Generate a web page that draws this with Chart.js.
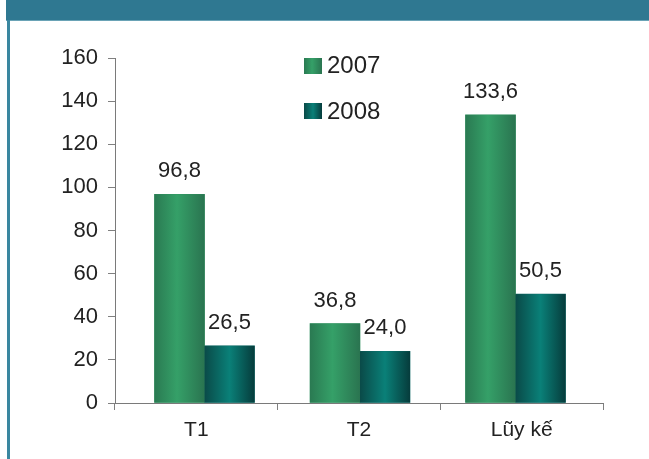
<!DOCTYPE html>
<html>
<head>
<meta charset="utf-8">
<script src="https://cdn.jsdelivr.net/npm/chart.js@4/dist/chart.umd.min.js"></script>
<style>
  html, body { margin: 0; padding: 0; background: #fff; }
  #wrap { position: relative; width: 649px; height: 459px; overflow: hidden; background: #fff; font-family: "Liberation Sans", Arial, sans-serif; }
  #band { position: absolute; left: 6px; top: 0; width: 643px; height: 20px; background: #2f7891; border-bottom: 1px solid #6aa3b6; }
  #lborder { position: absolute; left: 7px; top: 20px; width: 3px; height: 439px; background: #3a87a0; }
  canvas { position: absolute; left: 0; top: 0; }
  .leg { position: absolute; left: 304px; font-size: 24px; color: #222; line-height: 1; }
  .sw { position: absolute; left: 0; width: 18px; height: 16px; }
  .lt { position: absolute; left: 23px; top: 0; white-space: nowrap; }
</style>
</head>
<body>
<div id="wrap">
  <div id="band"></div>
  <div id="lborder"></div>
  <canvas id="c" width="649" height="459"></canvas>
  <div class="leg" style="top:53px;"><div class="sw" style="top:5px;background:linear-gradient(90deg,#2a7a52,#35a068 45%,#2a7450);"></div><div class="lt" id="l0"></div></div>
  <div class="leg" style="top:99px;"><div class="sw" style="top:4px;background:linear-gradient(90deg,#0a4a48,#0a8078 50%,#063c3c);"></div><div class="lt" id="l1"></div></div>
</div>
<script>
const categories = ["T1", "T2", "Lũy kế"];
const seriesNames = ["2007", "2008"];
const values2007 = [96.8, 36.8, 133.6];
const values2008 = [26.5, 24.0, 50.5];
const labels2007 = ["96,8", "36,8", "133,6"];
const labels2008 = ["26,5", "24,0", "50,5"];
const yTicks = [0, 20, 40, 60, 80, 100, 120, 140, 160];

document.getElementById('l0').textContent = seriesNames[0];
document.getElementById('l1').textContent = seriesNames[1];

const FONT = '"Liberation Sans", Arial, sans-serif';
const gradStops = [
  [[0, '#2a7a52'], [0.45, '#35a068'], [1, '#2a7450']],
  [[0, '#0a4a48'], [0.5, '#0a8078'], [1, '#063c3c']]
];
const valueLabels = [labels2007, labels2008];

const gradientBars = {
  id: 'gradientBars',
  afterDatasetsDraw(chart) {
    const ctx = chart.ctx;
    chart.data.datasets.forEach((ds, di) => {
      const meta = chart.getDatasetMeta(di);
      meta.data.forEach((bar, i) => {
        const p = bar.getProps(['x', 'y', 'base', 'width'], true);
        const l = p.x - p.width / 2, r = p.x + p.width / 2;
        const g = ctx.createLinearGradient(l, 0, r, 0);
        gradStops[di].forEach(s => g.addColorStop(s[0], s[1]));
        ctx.save();
        ctx.fillStyle = g;
        ctx.fillRect(l, p.y, p.width, p.base - p.y);
        ctx.fillStyle = '#222';
        ctx.font = '22px ' + FONT;
        ctx.textAlign = 'center';
        ctx.textBaseline = 'alphabetic';
        ctx.fillText(valueLabels[di][i], p.x, p.y - 17);
        ctx.restore();
      });
    });
  }
};

new Chart(document.getElementById('c'), {
  type: 'bar',
  data: {
    labels: categories,
    datasets: [
      { label: seriesNames[0], data: values2007.map((v, i) => ({ x: i, y: v })), backgroundColor: '#2f8f5e', xAxisID: 'xb' },
      { label: seriesNames[1], data: values2008.map((v, i) => ({ x: i, y: v })), backgroundColor: '#0a6663', xAxisID: 'xb' }
    ]
  },
  options: {
    responsive: false,
    animation: false,
    events: [],
    layout: { padding: { left: 0, right: 46, top: 58, bottom: 0 } },
    datasets: { bar: { barThickness: 50 } },
    plugins: { legend: { display: false }, tooltip: { enabled: false } },
    scales: {
      x: {
        type: 'category',
        labels: categories,
        grid: { offset: true, drawOnChartArea: false, drawTicks: true, tickLength: 7, color: '#808080' },
        border: { color: '#7a7a7a', width: 1 },
        ticks: { color: '#222', font: { family: FONT, size: 21 }, padding: 8 },
        afterFit(s) { s.height = 56; }
      },
      xb: {
        type: 'linear',
        display: false,
        offset: false,
        bounds: 'data',
        grid: { offset: false },
        min: -0.5756,
        max: 2.5627
      },
      y: {
        min: 0, max: 160,
        afterBuildTicks(s) { s.ticks = yTicks.map(v => ({ value: v })); },
        ticks: { color: '#222', font: { family: FONT, size: 22 }, padding: 10 },
        grid: { drawOnChartArea: false, drawTicks: true, tickLength: 7, color: '#808080' },
        border: { color: '#7a7a7a', width: 1 },
        afterFit(s) { s.width = 115; }
      }
    }
  },
  plugins: [gradientBars]
});
</script>
</body>
</html>
